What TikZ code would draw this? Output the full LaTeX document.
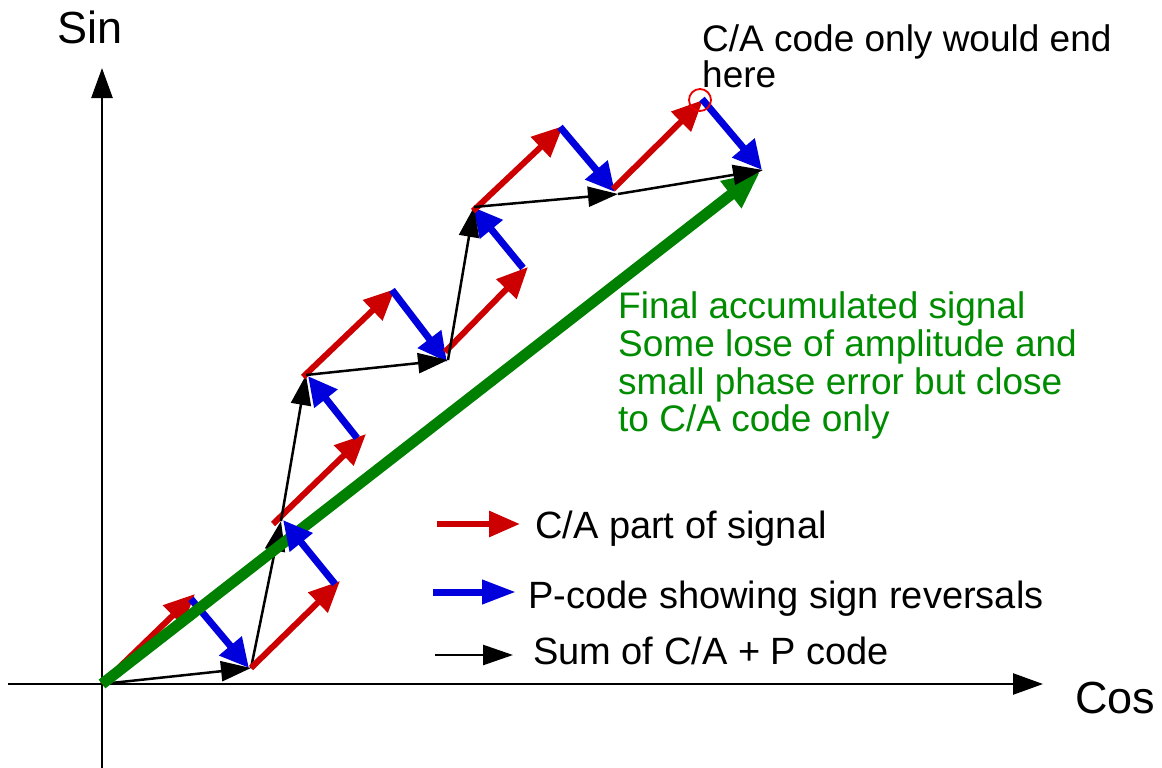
\documentclass[tikz,border=0pt]{standalone}
\usepackage{fontspec}
\setmainfont{Liberation Sans}
\usetikzlibrary{arrows.meta}
\definecolor{cared}{RGB}{204,0,0}
\definecolor{pblue}{RGB}{0,0,221}
\definecolor{sumgreen}{RGB}{0,128,0}
\definecolor{txtgreen}{RGB}{0,140,0}
\definecolor{markred}{RGB}{235,0,0}
\tikzset{
  axisline/.style={black, line width=2.5pt, -{Triangle[length=30pt,width=21pt]}},
  cavec/.style={cared, line width=6pt, -{Triangle[length=31pt,width=27pt]}},
  pvec/.style={pblue, line width=7pt, -{Triangle[length=29pt,width=28pt]}},
  sumvec/.style={black, line width=2.5pt, -{Triangle[length=30pt,width=20pt]}},
  finalvec/.style={sumgreen, line width=11pt, -{Triangle[length=37pt,width=32pt]}},
  lbl/.style={anchor=base west, inner sep=0pt, font=\fontsize{37}{38}\selectfont},
  leglbl/.style={anchor=base west, inner sep=0pt, font=\fontsize{38}{39}\selectfont},
  biglbl/.style={anchor=base west, inner sep=0pt, font=\fontsize{45}{48}\selectfont},
}
\begin{document}
\begin{tikzpicture}[x=1pt,y=-1pt]
\useasboundingbox (0,0) rectangle (1162,768);
% axes
\coordinate (xl) at (8,684);
\coordinate (xr) at (1043,684);
\coordinate (yb) at (102,768);
\coordinate (yt) at (102,68);
\draw[axisline] (xl) -- (xr);
\draw[axisline] (yb) -- (yt);
\node[biglbl] (sinlbl) at (57,44) {Sin};
\node[biglbl] (coslbl) at (1075,713) {Cos};
% sum points
\coordinate (O) at (102,684);
\coordinate (S1) at (251,668);
\coordinate (S2) at (281,521);
\coordinate (S3) at (306,375);
\coordinate (S4) at (448,360);
\coordinate (S5) at (474,207);
\coordinate (S6) at (618,194);
\coordinate (S7) at (763,170);
% C/A tips and starts
\coordinate (r1) at (195,594);
\coordinate (r2) at (340,581);
\coordinate (r3s) at (273,524);
\coordinate (r3) at (366,434);
\coordinate (r4s) at (303,377);
\coordinate (r4) at (395,289);
\coordinate (r5s) at (445,352);
\coordinate (r5) at (528,267);
\coordinate (r6s) at (473,211);
\coordinate (r6) at (563,126);
\coordinate (r7s) at (613,189);
\coordinate (r7) at (703,100);
% P-code starts/tips
\coordinate (b1s) at (191,599);
\coordinate (b1) at (249,668);
\coordinate (b2s) at (335,584);
\coordinate (b2) at (283,520);
\coordinate (b3s) at (357,438);
\coordinate (b3) at (308,376);
\coordinate (b4s) at (392,290);
\coordinate (b4) at (447,362);
\coordinate (b5s) at (523,268);
\coordinate (b5) at (473,207);
\coordinate (b6s) at (560,127);
\coordinate (b6) at (615,192);
\coordinate (b7s) at (702,99);
\coordinate (b7) at (762,170);
\coordinate (G) at (760,172);
% step 1
\draw[cavec] (O) -- (r1);
\draw[pvec] (b1s) -- (b1);
\draw[sumvec] (O) -- (S1);
\draw[sumvec] (S1) -- (S2);
% final
\draw[finalvec] (O) -- (G);
% remaining steps
\draw[cavec] (S1) -- (r2);
\draw[pvec] (b2s) -- (b2);
\draw[cavec] (r3s) -- (r3);
\draw[pvec] (b3s) -- (b3);
\draw[sumvec] (S2) -- (S3);
\draw[cavec] (r4s) -- (r4);
\draw[pvec] (b4s) -- (b4);
\draw[sumvec] (S3) -- (S4);
\draw[cavec] (r5s) -- (r5);
\draw[pvec] (b5s) -- (b5);
\draw[sumvec] (S4) -- (S5);
\draw[cavec] (r6s) -- (r6);
\draw[pvec] (b6s) -- (b6);
\draw[sumvec] (S5) -- (S6);
\draw[cavec] (r7s) -- (r7);
\draw[pvec] (b7s) -- (b7);
\draw[sumvec] (S6) -- (S7);
% end mark
\node[draw=markred, circle, line width=1.8pt, minimum size=22pt, inner sep=0pt] (endmark) at (700,100) {};
\node[lbl] (ca1) at (702,52) {C/A code only would end};
\node[lbl] (ca2) at (702,88) {here};
% green text
\node[lbl, text=txtgreen] (g1) at (618,318) {Final accumulated signal};
\node[lbl, text=txtgreen] (g2) at (618,356) {Some lose of amplitude and};
\node[lbl, text=txtgreen] (g3) at (618,394) {small phase error but close};
\node[lbl, text=txtgreen] (g4) at (618,431) {to C/A code only};
% legend
\coordinate (l1a) at (437,524);
\coordinate (l1b) at (520,524);
\coordinate (l2a) at (433,592);
\coordinate (l2b) at (516,592);
\coordinate (l3a) at (435,655);
\coordinate (l3b) at (513,655);
\draw[cavec, -{Triangle[length=31pt,width=25pt]}] (l1a) -- (l1b);
\draw[pvec, -{Triangle[length=34pt,width=23pt]}] (l2a) -- (l2b);
\draw[sumvec] (l3a) -- (l3b);
\node[leglbl] (leg1) at (535,538) {C/A part of signal};
\node[leglbl] (leg2) at (528,608) {P-code showing sign reversals};
\node[leglbl] (leg3) at (533,664) {Sum of C/A + P code};
\end{tikzpicture}
\end{document}
